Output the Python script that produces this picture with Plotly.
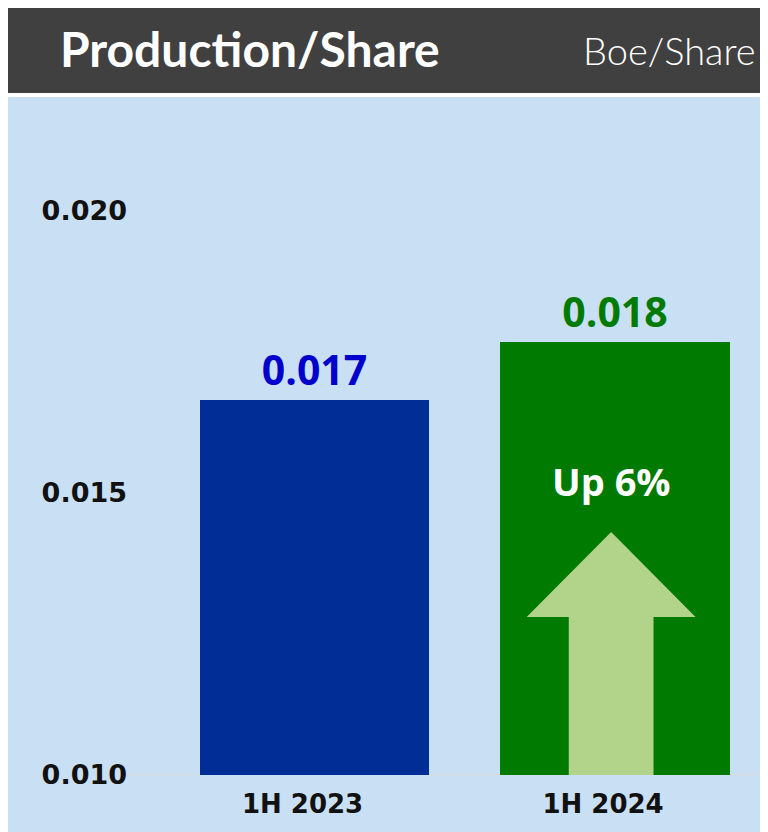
import plotly.graph_objects as go

# Data
periods = ["1H 2023", "1H 2024"]
boe_per_share = [0.01665, 0.01767]
value_labels = ["0.017", "0.018"]
bar_colors = ["#002E96", "#007A00"]
label_colors = ["#0000CC", "#007A00"]
y_ticks = [0.010, 0.015, 0.020]
y_tick_labels = ["0.010", "0.015", "0.020"]
change_text = "Up 6%"

# Figure size and plot area (page adds an 8px body margin)
OFF = 8
W, H = 768 - OFF, 832 - OFF
L, R, T, B = 122, 0, 89, 57
pw, ph = W - L - R, H - T - B


def px(x):
    # screen x -> paper x
    return (x - OFF - L) / pw


def py(y):
    # screen y -> paper y
    return (H - B - (y - OFF)) / ph


fig = go.Figure()

fig.add_trace(go.Bar(
    x=periods, y=boe_per_share,
    marker=dict(color=bar_colors, line=dict(width=0)),
    width=0.765,
    text=value_labels, textposition="outside",
    textfont=dict(family="Open Sans", size=41, color=label_colors, weight="bold"),
    cliponaxis=False,
    hoverinfo="skip",
))

# Upward arrow inside the second bar (y in data units, x in category units)
cx = 1 - 0.013
arrow_path = (
    f"M {cx - 0.141},0.010 L {cx - 0.141},0.0128 L {cx - 0.281},0.0128 "
    f"L {cx},0.01431 L {cx + 0.281},0.0128 L {cx + 0.141},0.0128 "
    f"L {cx + 0.141},0.010 Z"
)

shapes = [
    # light blue panel
    dict(type="rect", xref="paper", yref="paper", x0=px(4), x1=1.01, y0=py(840), y1=1,
         fillcolor="#C9DFF3", line=dict(width=0), layer="below"),
    # dark header
    dict(type="rect", xref="paper", yref="paper", x0=px(4), x1=1.01, y0=py(93), y1=py(0),
         fillcolor="#404040", line=dict(width=0), layer="below"),
    # baseline
    dict(type="line", xref="paper", yref="y", x0=px(112), x1=1, y0=0.010, y1=0.010,
         line=dict(color="#D6D9DE", width=2), layer="below"),
    dict(type="path", xref="x", yref="y", path=arrow_path,
         fillcolor="#B2D38A", line=dict(width=0), layer="above"),
]

annotations = [
    dict(text="<b>Production/Share</b>", xref="paper", yref="paper",
         x=px(58), y=py(49), xanchor="left", yanchor="middle", showarrow=False,
         font=dict(family="Lato", size=48, color="white")),
    dict(text="Boe/Share", xref="paper", yref="paper",
         x=px(758), y=py(50), xanchor="right", yanchor="middle", showarrow=False,
         font=dict(family="Lato", size=38, color="white", weight=300)),
    dict(text=f"<b>{change_text}</b>", xref="x", yref="paper",
         x=cx, y=py(481), xanchor="center", yanchor="middle", showarrow=False,
         font=dict(family="Open Sans", size=38, color="white")),
]

fig.update_layout(
    width=W, height=H,
    margin=dict(l=L, r=R, t=T, b=B),
    paper_bgcolor="white",
    plot_bgcolor="rgba(0,0,0,0)",
    showlegend=False,
    shapes=shapes,
    annotations=annotations,
    bargap=0,
)

fig.update_xaxes(
    range=[-0.614, 1.509], showgrid=False, zeroline=False, showline=False,
    ticks="", ticklabelstandoff=11, ticklabelshift=-12,
    tickfont=dict(family="DejaVu Sans", size=26, color="#111111", weight="bold"),
)
fig.update_yaxes(
    range=[0.010, 0.010 + ph / 282 * 0.005], showgrid=False, zeroline=False,
    showline=False, ticks="", tickvals=y_ticks, ticktext=y_tick_labels,
    ticklabelstandoff=2,
    tickfont=dict(family="DejaVu Sans", size=27, color="#111111", weight="bold"),
)

fig.write_html("out.html")
